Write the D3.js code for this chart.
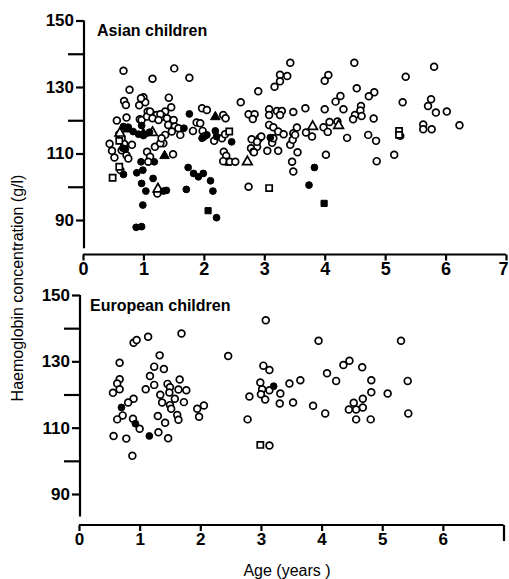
<!DOCTYPE html>
<html>
<head>
<meta charset="utf-8">
<script src="https://cdn.jsdelivr.net/npm/d3@7"></script>
<style>
  body { margin: 0; background: #fff; }
  text { font-family: "Liberation Sans", Arial, sans-serif; fill: #000; }
</style>
</head>
<body>
<div class="container"></div>
<script>
const size = {
    width: 509,
    height: 579
};

// Asian children: [age (years), haemoglobin (g/l)]
const asianOpenCircle = [[0.67,134.9],[1.51,135.6],[1.15,132.5],[1.76,132.8],[0.77,129.2],[0.68,125.8],[0.71,124.6],[1.00,126.9],[1.03,125.4],[0.93,124.5],[1.42,126.8],[1.46,123.9],[1.36,122.6],[1.07,122.6],[1.16,121.6],[1.26,121.6],[0.72,120.8],[0.94,120.3],[0.56,119.9],[1.97,123.6],[2.05,123.1],[2.32,121.6],[2.36,120.6],[2.61,125.4],[1.88,119.3],[1.32,121.1],[1.39,120.6],[1.50,120.1],[1.41,118.6],[1.52,118.1],[1.47,116.6],[1.58,117.6],[1.61,115.6],[1.36,115.6],[1.33,113.1],[2.74,121.8],[2.84,121.8],[2.81,120.4],[1.82,116.8],[1.94,119.1],[1.98,116.8],[2.00,115.1],[2.17,113.8],[2.30,114.6],[2.35,115.8],[2.92,114.6],[2.88,112.0],[2.78,111.6],[2.82,110.5],[1.49,109.8],[2.33,110.5],[2.37,109.3],[2.38,107.5],[2.32,107.7],[2.43,107.5],[2.52,107.5],[0.44,112.9],[0.48,110.8],[0.52,108.8],[0.68,112.9],[0.81,112.6],[0.62,105.0],[0.64,111.0],[0.72,109.5],[0.75,108.5],[1.23,98.0],[1.06,110.5],[1.11,109.0],[1.08,107.5],[1.19,112.0],[1.28,113.1],[1.30,114.6],[0.96,126.6],[0.97,120.1],[1.06,121.1],[1.11,122.6],[1.22,121.6],[1.28,121.8],[1.15,120.6],[1.25,120.1],[0.60,115.8],[0.64,114.6],
  [3.43,137.3],[4.49,137.3],[5.34,133.1],[3.26,133.7],[3.38,133.3],[3.26,131.7],[3.17,130.1],[2.90,128.7],[4.06,133.6],[4.00,131.9],[4.53,129.6],[4.82,128.4],[4.73,127.2],[4.26,127.3],[4.18,125.6],[5.29,125.4],[3.08,123.3],[3.21,122.8],[3.29,122.8],[3.08,121.6],[3.26,121.6],[3.48,122.5],[3.68,123.6],[4.00,123.3],[4.31,123.3],[4.60,124.3],[4.59,122.9],[4.61,121.3],[4.50,121.6],[4.47,120.3],[4.81,120.5],[4.08,119.5],[4.21,119.6],[3.98,117.9],[4.05,116.5],[3.08,118.6],[3.15,117.9],[3.23,116.6],[3.32,115.8],[3.54,117.8],[3.48,116.1],[3.69,116.3],[3.79,115.1],[4.72,115.6],[4.37,114.7],[2.95,115.1],[2.79,114.3],[2.88,113.5],[3.13,113.2],[3.15,114.6],[2.83,110.4],[3.05,110.8],[3.23,110.8],[3.43,112.6],[3.47,114.1],[3.51,115.6],[3.55,110.4],[4.85,113.8],[3.46,107.5],[3.48,104.6],[4.02,109.6],[4.86,107.7],[5.15,109.6],[2.74,100.0],[5.81,136.1],[5.76,126.3],[5.71,124.3],[5.84,122.3],[6.02,122.6],[6.23,118.5],[5.63,118.7],[5.63,117.3],[5.77,117.3],[5.25,115.3]];
const asianFilledCircle = [[1.76,121.9],[2.46,113.5],[3.10,114.8],[3.83,105.8],[3.74,100.5],[0.70,111.3],[0.96,107.5],[0.89,104.2],[0.99,105.0],[0.97,101.0],[1.04,98.7],[1.16,102.5],[0.99,94.5],[0.88,87.8],[0.97,88.0],[1.33,98.7],[1.38,98.9],[1.71,99.2],[1.74,105.8],[1.83,104.0],[1.91,103.0],[1.99,104.0],[2.11,101.8],[2.15,98.7],[2.21,90.7],[1.18,107.5],[0.67,103.7],[1.67,117.6],[1.97,114.6],[2.05,115.6],[2.19,116.8],[2.21,115.1],[0.67,118.1],[0.75,117.9],[0.83,116.6],[0.92,115.8],[1.00,115.4],[1.10,116.4],[0.97,118.4],[0.66,111.6]];
const asianOpenSquare = [[0.60,113.8],[0.60,106.0],[0.49,102.7],[2.42,116.6],[3.08,99.6],[5.23,116.8],[5.23,115.6]];
const asianFilledSquare = [[2.07,92.8],[3.99,95.0]];
const asianOpenTriangle = [[3.80,118.1],[4.23,118.4],[2.72,107.5],[1.15,116.3],[1.24,99.3],[0.61,116.1]];
const asianFilledTriangle = [[2.19,121.0],[1.35,109.3],[0.73,117.3],[1.00,116.0]];

// European children
const euroOpenCircle = [[0.90,135.6],[0.95,136.4],[1.14,137.4],[1.69,138.4],[2.46,131.6],[1.33,131.8],[0.67,129.6],[1.24,128.4],[1.40,127.7],[0.67,124.6],[0.63,123.3],[1.17,125.6],[1.66,124.5],[0.56,120.5],[0.67,121.6],[1.10,121.6],[1.24,122.9],[1.46,123.2],[1.50,122.2],[1.64,121.5],[1.77,121.3],[1.34,119.9],[1.49,120.6],[1.58,118.7],[0.90,118.7],[0.81,117.6],[1.37,117.6],[1.50,116.8],[1.52,115.7],[1.73,117.7],[1.95,115.7],[2.06,116.7],[1.98,113.3],[0.72,113.7],[0.63,112.5],[0.89,112.7],[1.30,113.5],[1.62,113.8],[1.64,112.4],[1.42,111.5],[1.00,109.7],[0.57,107.5],[0.78,106.7],[1.31,108.6],[1.47,106.8],[0.88,101.5],
  [3.08,142.4],[3.95,136.2],[5.31,136.2],[3.04,128.7],[3.14,127.4],[4.36,128.9],[4.46,130.2],[4.67,128.2],[4.09,126.4],[4.24,124.1],[3.65,124.3],[3.47,123.3],[4.82,124.3],[5.42,124.1],[2.99,123.6],[3.02,121.6],[3.14,121.3],[3.00,120.1],[3.32,120.3],[2.81,119.4],[3.07,118.5],[4.82,120.7],[5.09,120.3],[3.31,117.3],[3.53,117.6],[3.86,116.6],[4.68,118.7],[4.53,117.5],[4.68,116.1],[4.57,115.5],[4.45,115.5],[4.06,114.3],[5.43,114.3],[2.78,112.5],[4.57,112.5],[4.81,112.5],[3.14,104.6]];
const euroFilledCircle = [[0.70,116.1],[0.93,111.2],[1.16,107.5],[3.21,122.5]];
const euroOpenSquare = [[2.99,104.8]];

const xTicks = [0, 1, 2, 3, 4, 5, 6, 7];
const yMajor = [90, 110, 130, 150];
const yMinor = [100, 120, 140];

const svg = d3.selectAll(".container")
              .append("svg")
              .attr("width", size.width)
              .attr("height", size.height);

const panels = [
    {name: "Asian children", xr: [83, 506], yr: [220, 20.5], yAxisX: 84, yLow: 81.5, xAxisY: 254.5,
     tickFont: 18, titleX: 97, titleY: 36, lastLabel: true,
     series: [
        {data: asianOpenCircle, shape: d3.symbolCircle, filled: false},
        {data: asianOpenSquare, shape: d3.symbolSquare, filled: false},
        {data: asianOpenTriangle, shape: d3.symbolTriangle, filled: false},
        {data: asianFilledCircle, shape: d3.symbolCircle, filled: true},
        {data: asianFilledSquare, shape: d3.symbolSquare, filled: true},
        {data: asianFilledTriangle, shape: d3.symbolTriangle, filled: true}
     ]},
    {name: "European children", xr: [79, 503.5], yr: [494, 295], yAxisX: 80, yLow: 83.2, xAxisY: 525,
     tickFont: 17, titleX: 90, titleY: 311, lastLabel: false,
     series: [
        {data: euroOpenCircle, shape: d3.symbolCircle, filled: false},
        {data: euroOpenSquare, shape: d3.symbolSquare, filled: false},
        {data: euroFilledCircle, shape: d3.symbolCircle, filled: true}
     ]}
];

const symSize = {circle: 36, square: 38, triangle: 40};

panels.forEach((p) => {
    const x = d3.scaleLinear().domain([0, 7]).range(p.xr);
    const y = d3.scaleLinear().domain([90, 150]).range(p.yr);
    const g = svg.append("g");

    // y axis: major ticks with labels, longer unlabelled minor ticks
    const yAxisMajor = d3.axisLeft(y).tickValues(yMajor).tickSize(8).tickPadding(2);
    const yAxisMinor = d3.axisLeft(y).tickValues(yMinor).tickSize(16).tickFormat("");
    const ga = g.append("g").attr("transform", `translate(${p.yAxisX},0)`).call(yAxisMajor);
    const gm = g.append("g").attr("transform", `translate(${p.yAxisX},0)`).call(yAxisMinor);
    ga.select(".domain").remove();
    gm.select(".domain").remove();
    ga.selectAll("text").attr("font-size", 17).attr("font-weight", "bold").attr("font-family", "Liberation Sans, Arial");
    g.append("line")
        .attr("x1", p.yAxisX).attr("x2", p.yAxisX)
        .attr("y1", y(150)).attr("y2", y(p.yLow))
        .attr("stroke", "#000").attr("stroke-width", 2.2);

    // x axis
    const xAxis = d3.axisBottom(x).tickValues(xTicks).tickSize(6).tickPadding(2)
        .tickFormat((d) => (d === 7 && !p.lastLabel) ? "" : d);
    const gx = g.append("g").attr("transform", `translate(0,${p.xAxisY})`).call(xAxis);
    gx.select(".domain").attr("stroke-width", 2.2).attr("d", `M${p.xr[0]},0H${p.xr[1]}`);
    gx.selectAll("text").attr("font-size", p.tickFont).attr("font-weight", "bold").attr("font-family", "Liberation Sans, Arial");
    if (p.lastLabel) {
        gx.selectAll(".tick").filter((d) => d === 7).select("text").attr("dx", -3);
    } else {
        gx.selectAll(".tick").filter((d) => d === 7).select("line").attr("y2", 16);
    }
    g.selectAll(".tick line").attr("stroke-width", 2.2);

    g.append("text")
        .attr("x", p.titleX).attr("y", p.titleY)
        .attr("font-size", 16).attr("font-weight", "bold")
        .text(p.name);

    p.series.forEach((s) => {
        const key = s.shape === d3.symbolCircle ? "circle" : (s.shape === d3.symbolSquare ? "square" : "triangle");
        const sym = d3.symbol().type(s.shape).size(symSize[key]);
        g.append("g").selectAll("path")
            .data(s.data)
            .enter()
            .append("path")
            .attr("d", sym)
            .attr("transform", (d) => `translate(${x(d[0])},${y(d[1])})`)
            .attr("fill", s.filled ? "#000" : "#fff")
            .attr("stroke", "#000")
            .attr("stroke-width", s.filled ? 1 : 1.7);
    });
});

svg.append("text")
    .attr("transform", "translate(23,288) rotate(-90)")
    .attr("text-anchor", "middle")
    .attr("font-size", 16)
    .text("Haemoglobin concentration (g/l)");

svg.append("text")
    .attr("x", 287).attr("y", 576)
    .attr("text-anchor", "middle")
    .attr("font-size", 16)
    .text("Age (years )");
</script>
</body>
</html>
